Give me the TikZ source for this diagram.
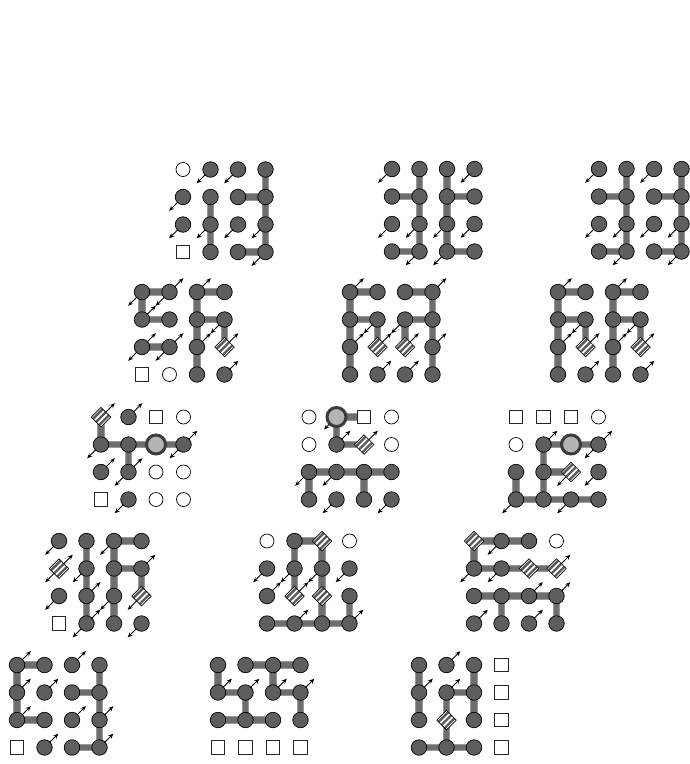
\documentclass[tikz,border=0pt]{standalone}
\usetikzlibrary{arrows.meta,shapes.geometric}
\pgfdeclarelayer{bg}
\pgfsetlayers{bg,main}
\definecolor{nodegray}{HTML}{5E5E5E}
\definecolor{edgegray}{HTML}{6E6E6E}
\definecolor{edgelight}{HTML}{9A9A9A}
\definecolor{biggray}{HTML}{B4B4B4}
\definecolor{ringgray}{HTML}{3C3C3C}
\definecolor{stripegray}{HTML}{5A5A5A}
\tikzset{
  base/.style={inner sep=0pt,outer sep=0pt},
  tg/.style={base,circle,minimum size=15.5pt,fill=nodegray,draw=black,line width=0.7pt},
  tw/.style={base,circle,minimum size=14pt,fill=white,draw=black,line width=0.7pt},
  ts/.style={base,rectangle,minimum size=13.5pt,fill=white,draw=black!85,line width=0.9pt},
  td/.style={base,diamond,shape aspect=1,minimum size=19.5pt,fill=white,draw=black,line width=0.7pt,
    path picture={\foreach \k in {-3.1,0,3.1}{\draw[line width=2.4pt,stripegray]
      ([shift={(\k,\k)}]path picture bounding box.center) -- ++(10,-10)
      ([shift={(\k,\k)}]path picture bounding box.center) -- ++(-10,10);}}},
  tb/.style={base,circle,minimum size=19pt,fill=biggray,draw=ringgray,line width=3pt},
  edgeback/.style={line width=7.5pt,draw=edgelight},
  edgebar/.style={line width=5.5pt,draw=edgegray},
  arr/.style={-{Stealth[length=5pt,width=4.2pt]},line width=0.85pt,black},
}
\newcommand\panel[5]{%
\begin{scope}[shift={(#2)}]
\foreach \t [count=\i from 0] in {#3}{%
  \pgfmathtruncatemacro\cc{mod(\i,4)}%
  \pgfmathtruncatemacro\rr{div(\i,4)}%
  \node[\t] (#1\cc\rr) at ({\cc*27.5},{\rr*27.5}) {};
}
\begin{pgfonlayer}{bg}
\foreach \a/\b in {#4}{\draw[edgeback] (#1\a.center) -- (#1\b.center);}
\foreach \a/\b in {#4}{\draw[edgebar] (#1\a.center) -- (#1\b.center);}
\end{pgfonlayer}
\foreach \n/\s in {#5}{\draw[arr] (#1\n) ++({\s*5},{-\s*5}) -- ++({\s*8.8},{-\s*8.8});}
\end{scope}}
\begin{document}
\begin{tikzpicture}[x=1pt,y=-1pt]
\begin{pgfonlayer}{bg}
\fill[white] (0,0) rectangle (690,764);
\end{pgfonlayer}
\useasboundingbox (0,0) rectangle (690,764);
% row 1
\panel{A}{183,169.5}{tw,tg,tg,tg,tg,tg,tg,tg,tg,tg,tg,tg,ts,tg,tg,tg}{11/12,12/13,21/31,30/31,31/32,32/33,23/33}{10/-1,20/-1,01/-1,02/-1,12/-1,22/-1,32/-1,33/-1}
\panel{B}{392,169}{tg,tg,tg,tg,tg,tg,tg,tg,tg,tg,tg,tg,tg,tg,tg,tg}{01/11,10/11,11/12,12/13,03/13,20/21,21/22,22/23,21/31,23/33}{00/-1,30/-1,02/-1,12/-1,22/-1,32/-1,13/-1,23/-1}
\panel{C}{599,169}{tg,tg,tg,tg,tg,tg,tg,tg,tg,tg,tg,tg,tg,tg,tg,tg}{01/11,10/11,11/12,12/13,03/13,21/31,30/31,31/32,32/33,23/33}{00/-1,20/-1,02/-1,12/-1,22/-1,32/-1,13/-1,33/-1}
% row 2
\panel{D}{142,292}{tg,tg,tg,tg,tg,tg,tg,tg,tg,tg,tg,td,ts,tw,tg,tg}{00/10,00/01,01/11,02/12,20/30,20/21,21/22,22/23,21/31,31/32}{00/-1,10/-1,10/1,20/1,01/1,31/-1,02/1,02/-1,12/1,12/-1,22/1,32/1,33/1}
\panel{E}{350,292}{tg,tg,tg,tg,tg,tg,tg,tg,tg,td,td,tg,tg,tg,tg,tg}{00/10,00/01,01/02,02/03,01/11,11/12,20/30,30/31,31/32,32/33,21/31,21/22}{00/1,30/1,11/-1,21/-1,02/1,12/1,22/1,32/1,13/1,23/1}
\panel{F}{558,292}{tg,tg,tg,tg,tg,tg,tg,tg,tg,td,tg,td,tg,tg,tg,tg}{00/10,00/01,01/02,02/03,01/11,11/12,20/30,20/21,21/22,22/23,21/31,31/32}{00/1,20/1,11/-1,31/-1,02/1,12/1,22/1,32/1,13/1,33/1}
% row 3
\panel{G}{101,417}{td,tg,ts,tw,tg,tg,tb,tg,tg,tg,tw,tw,ts,tg,tw,tw}{00/01,01/11,11/21,21/31,11/12}{00/1,10/1,01/-1,31/1,31/-1,02/1,12/1,12/-1,13/-1}
\panel{H}{309,417}{tw,tb,ts,tw,tw,tg,td,tw,tg,tg,tg,tg,tg,tg,tg,tg}{10/20,10/11,11/21,02/12,12/22,22/32,02/03,22/23}{11/1,21/1,02/-1,12/-1,13/-1,33/-1}
\draw[arr] (H10) ++(-7.5,7.5) -- ++(-5,5);
\panel{I}{516,417}{ts,ts,ts,tw,tw,tg,tb,tg,tg,tg,td,tg,tg,tg,tg,tg}{11/21,21/31,11/12,12/13,12/22,02/03,03/13,13/23,23/33}{11/1,31/1,31/-1,22/-1,32/-1,03/-1,23/-1}
% row 4
\panel{J}{59,541}{tg,tg,tg,tg,td,tg,tg,tg,tg,tg,tg,td,ts,tg,tg,tg}{10/11,11/12,12/13,20/30,20/21,21/22,22/23,21/31,31/32}{00/-1,20/-1,01/1,01/-1,11/-1,31/1,02/-1,12/1,22/-1,32/-1,13/1,13/-1,33/-1}
\panel{K}{267,541}{tw,tg,td,tw,tg,tg,tg,tg,tg,td,td,tg,tg,tg,tg,tg}{10/20,10/11,11/12,20/21,21/22,22/23,03/13,13/23,23/33,32/33}{01/-1,11/-1,21/-1,31/-1,02/1,12/1,13/1,33/1}
\panel{L}{474,541}{td,tg,tg,tw,tg,tg,td,td,tg,tg,tg,tg,tg,tg,tg,tg}{00/10,10/20,00/01,01/11,11/21,21/31,02/12,12/22,22/32,12/13,32/33}{10/-1,01/-1,11/-1,31/1,22/1,32/1,03/1,23/1}
% row 5
\panel{M}{17,665}{tg,tg,tg,tg,tg,tg,tg,tg,tg,tg,tg,tg,ts,tg,tg,tg}{00/10,00/01,01/02,02/12,21/31,30/31,31/32,32/33,23/33}{00/1,20/1,01/1,11/1,02/1,22/1,32/1,13/1,33/1}
\panel{N}{218,665}{tg,tg,tg,tg,tg,tg,tg,tg,tg,tg,tg,tg,ts,ts,ts,ts}{00/01,01/11,11/12,02/12,12/22,10/20,20/30,20/21,21/31,31/32}{01/1,11/1,21/1,31/1}
\panel{O}{419,665}{tg,tg,tg,ts,tg,tg,tg,ts,tg,td,tg,ts,tg,tg,tg,ts}{00/01,01/02,11/21,20/21,21/22,11/12,12/13,03/13,13/23}{10/1,01/1,11/1}
\end{tikzpicture}
\end{document}
